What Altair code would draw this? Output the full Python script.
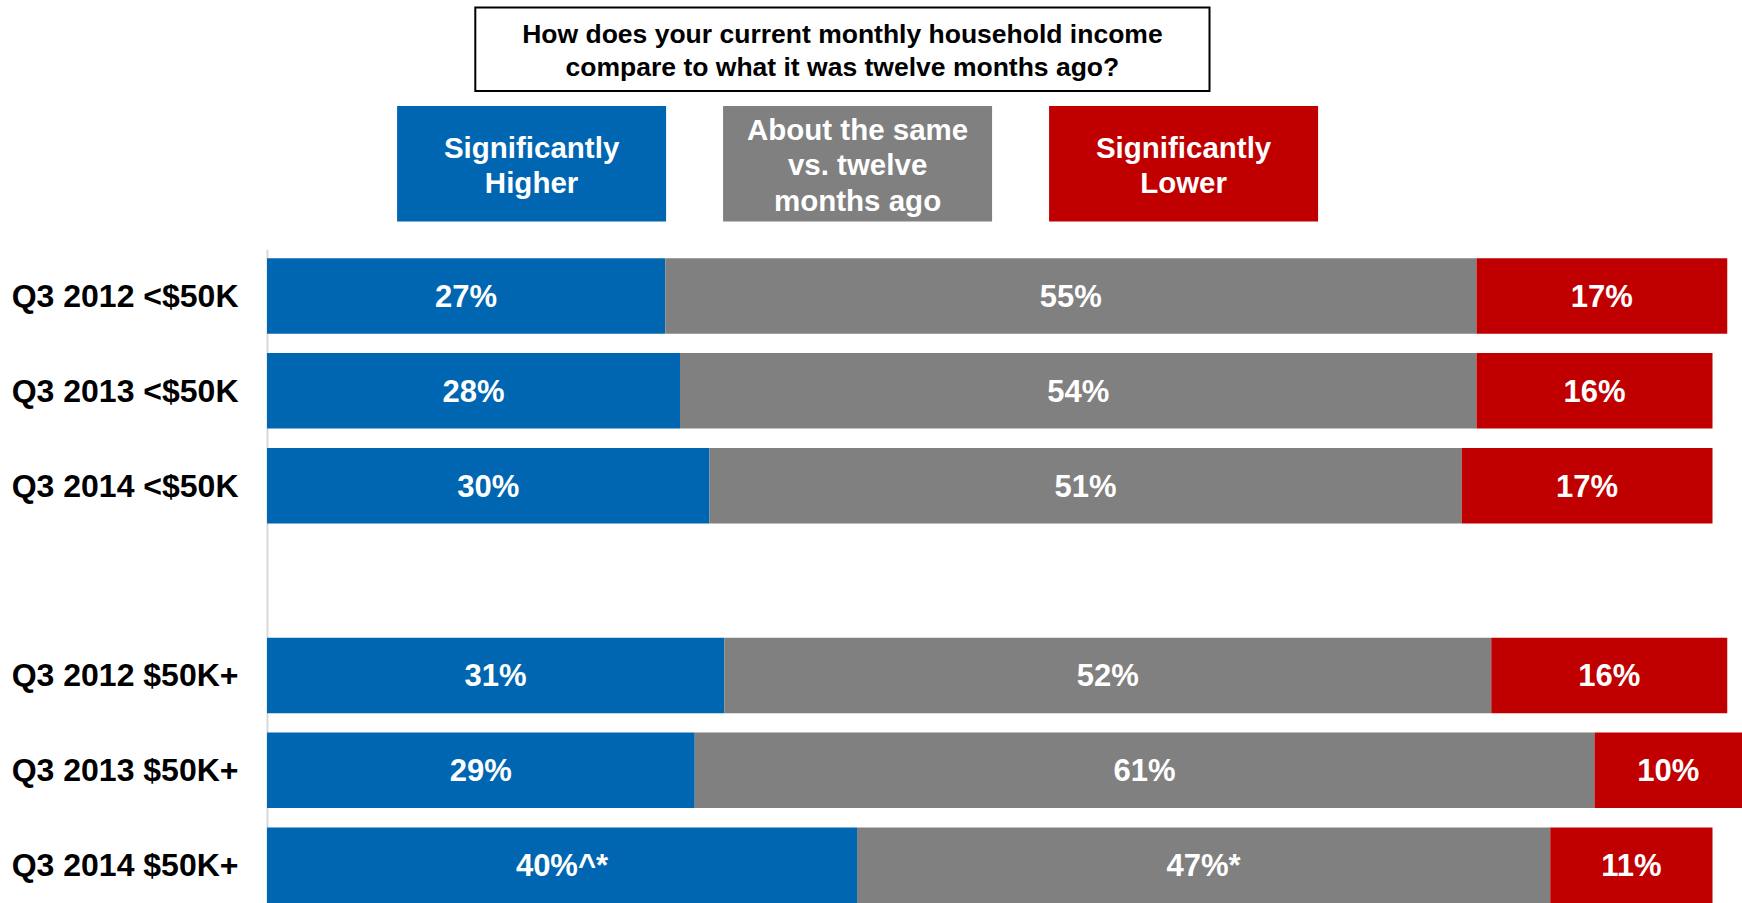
import altair as alt
import pandas as pd

# ---- data ----
categories = ["Q3 2012 <$50K", "Q3 2013 <$50K", "Q3 2014 <$50K",
              "Q3 2012 $50K+", "Q3 2013 $50K+", "Q3 2014 $50K+"]
higher = [27, 28, 30, 31, 29, 40]
same = [55, 54, 51, 52, 61, 47]
lower = [17, 16, 17, 16, 10, 11]
higher_marks = ["", "", "", "", "", "^*"]
same_marks = ["", "", "", "", "", "*"]
lower_marks = ["", "", "", "", "", ""]

responses = ["Significantly Higher", "About the same vs. twelve months ago", "Significantly Lower"]
legend_lines = ["Significantly\nHigher", "About the same\nvs. twelve\nmonths ago", "Significantly\nLower"]
colors = ["#0066B2", "#808080", "#C00000"]
question = "How does your current monthly household income\ncompare to what it was twelve months ago?"
spacer = " "
y_domain = categories[:3] + [spacer] + categories[3:]

FONT = "Liberation Sans"

rows = []
for i, cat in enumerate(categories):
    for k, (vals, marks) in enumerate([(higher, higher_marks), (same, same_marks), (lower, lower_marks)]):
        rows.append({"category": cat, "response": responses[k], "order": k,
                     "value": vals[i], "label": f"{vals[i]}%{marks[i]}"})
df = pd.DataFrame(rows)

color_scale = alt.Scale(domain=responses, range=colors)
x_scale = alt.Scale(domain=[0, 100], nice=False, zero=True)
y_enc = alt.Y(
    "category:N",
    scale=alt.Scale(domain=y_domain, paddingInner=0.204, paddingOuter=0.0485, align=1),
    axis=alt.Axis(title=None, ticks=False, labelPadding=29, labelFontSize=32,
                  labelFont=FONT, labelFontWeight="bold", labelColor="black",
                  labelOffset=1,
                  domainColor="#d9d9d9", domainWidth=2, labelLimit=500, grid=False),
)

bars = alt.Chart(df).mark_bar().encode(
    x=alt.X("value:Q", stack="zero", scale=x_scale, axis=None),
    y=y_enc,
    color=alt.Color("response:N", scale=color_scale, legend=None),
    order=alt.Order("order:Q"),
)

bar_text = alt.Chart(df).transform_stack(
    stack="value", groupby=["category"], as_=["x0", "x1"],
    sort=[alt.SortField("order", order="ascending")],
).transform_calculate(
    mid="(datum.x0 + datum.x1) / 2"
).mark_text(
    font=FONT, fontSize=31, fontWeight="bold", color="white",
    align="center", baseline="middle", dy=2,
).encode(
    x=alt.X("mid:Q", scale=x_scale, axis=None),
    y=y_enc,
    text="label:N",
)

# ---- header: question box and legend boxes ----
leg_df = pd.DataFrame({"response": responses, "text": legend_lines,
                       "nlines": [t.count("\n") + 1 for t in legend_lines]})
leg_x = alt.X("response:N",
              scale=alt.Scale(type="band", domain=responses, paddingInner=0.1748,
                              paddingOuter=0.8497, align=0.2348),
              axis=None)

leg_rect = alt.Chart(leg_df).mark_rect().encode(
    x=leg_x,
    y=alt.value(-143), y2=alt.value(-27.5),
    color=alt.Color("response:N", scale=color_scale, legend=None),
)
leg_style = dict(font=FONT, fontSize=29.5, fontWeight="bold", color="white",
                 align="center", baseline="middle", lineBreak="\n", lineHeight=35.3)
leg_text2 = alt.Chart(leg_df).transform_filter("datum.nlines == 2").mark_text(**leg_style).encode(
    x=leg_x, y=alt.value(-100), text="text:N",
)
leg_text3 = alt.Chart(leg_df).transform_filter("datum.nlines == 3").mark_text(**leg_style).encode(
    x=leg_x, y=alt.value(-118), text="text:N",
)
header = alt.layer(leg_rect, leg_text2, leg_text3)

q_df = pd.DataFrame({"q": [question]})
q_box = alt.Chart(q_df).mark_rect(filled=False, stroke="black", strokeWidth=2).encode(
    x=alt.value(208.3), x2=alt.value(942.5),
    y=alt.value(-241.5), y2=alt.value(-158),
)
q_text = alt.Chart(q_df).mark_text(
    font=FONT, fontSize=26.5, fontWeight="bold", color="black",
    align="center", baseline="alphabetic", lineBreak="\n", lineHeight=32.7,
).encode(
    x=alt.value(575.4), y=alt.value(-205.7),
    text="q:N",
)

chart = alt.layer(q_box, q_text, header, bars, bar_text).resolve_scale(
    x="independent"
).properties(
    width=1475, height=654,
    autosize=alt.AutoSizeParams(type="none"),
    padding={"left": 267, "top": 249, "right": 0, "bottom": 0},
    background="white",
).configure_view(stroke=None)

chart.save("out.html", embed_options={"renderer": "svg", "actions": False})
